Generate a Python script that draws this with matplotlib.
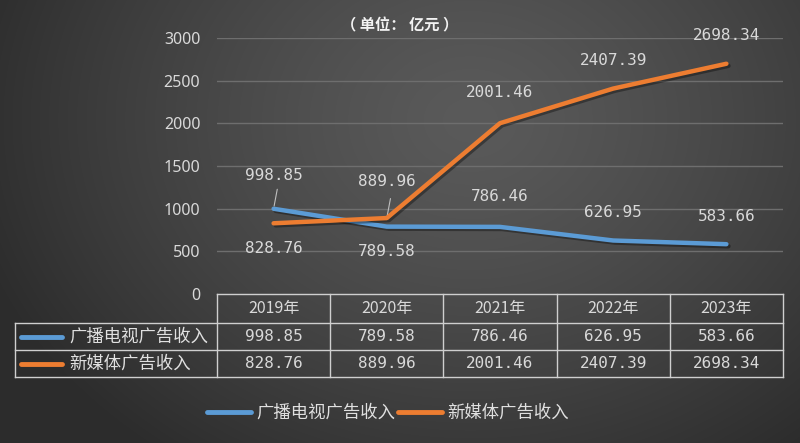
import numpy as np
import matplotlib
matplotlib.use("Agg")
import matplotlib.pyplot as plt
import matplotlib.patheffects as pe

plt.rcParams['font.family'] = ['Noto Sans CJK SC', 'DejaVu Sans']

# data
years = ["2019年", "2020年", "2021年", "2022年", "2023年"]
names = ["广播电视广告收入", "新媒体广告收入"]
tv = [998.85, 789.58, 786.46, 626.95, 583.66]
newmedia = [828.76, 889.96, 2001.46, 2407.39, 2698.34]
colors = ["#5B9BD5", "#ED7D31"]
yticks = [0, 500, 1000, 1500, 2000, 2500, 3000]

# label offsets (points) for each data label: + above, - below
tv_off = [24, -18, 22, 20, 20]
nm_off = [-18, 26, 22, 20, 20]

W, H = 800, 443
fig = plt.figure(figsize=(W / 100, H / 100), dpi=100)

# background radial gradient
bg = fig.add_axes([0, 0, 1, 1])
yy, xx = np.mgrid[0:H, 0:W]
d = np.sqrt(((xx - 470) / 520.0) ** 2 + ((yy - 120) / 420.0) ** 2)
d = np.clip(d, 0, 1)
val = 0x5a - (0x5a - 0x2c) * d ** 1.3
img = np.dstack([val, val, val]) / 255.0
bg.imshow(img, aspect="auto", extent=[0, W, H, 0])
bg.set_xlim(0, W)
bg.set_ylim(H, 0)
bg.axis("off")

x0, x1, ytop, ybot = 217, 783, 38, 294
ax = fig.add_axes([x0 / W, 1 - ybot / H, (x1 - x0) / W, (ybot - ytop) / H])
ax.patch.set_alpha(0)
xs = np.arange(len(years))
ax.set_xlim(-0.5, len(years) - 0.5)
ax.set_ylim(0, 3000)
ax.set_yticks(yticks)
ax.set_xticks([])
ax.tick_params(axis="y", length=0, pad=12, labelcolor="#d9d9d9", labelsize=11.5)
for lab in ax.get_yticklabels():
    lab.set_family("Noto Sans")
for s in ax.spines.values():
    s.set_visible(False)
ax.grid(axis="y", color="#6e6e6e", lw=1)
ax.set_axisbelow(True)

shadow = [pe.SimpleLineShadow(offset=(1.5, -1.5), shadow_color="black", alpha=0.35), pe.Normal()]
ax.plot(xs, tv, color=colors[0], lw=3.2, solid_capstyle="round", path_effects=shadow, zorder=3)
ax.plot(xs, newmedia, color=colors[1], lw=3.2, solid_capstyle="round", path_effects=shadow, zorder=4)

for series, offs in ((tv, tv_off), (newmedia, nm_off)):
    for i, v in enumerate(series):
        ax.annotate(f"{v:.2f}", (xs[i], v), xytext=(0, offs[i]), textcoords="offset points",
                    ha="center", va="center", color="#d9d9d9", fontsize=11.5,
                    family="DejaVu Sans Mono")

# leader lines for labels close to the points
ax.annotate("", (xs[0], tv[0]), xytext=(3, 16), textcoords="offset points",
            arrowprops=dict(arrowstyle="-", color="#bfbfbf", lw=0.8))
ax.annotate("", (xs[1], newmedia[1]), xytext=(3, 16), textcoords="offset points",
            arrowprops=dict(arrowstyle="-", color="#bfbfbf", lw=0.8))

fig.text(0.5, 1 - 25 / H, "（ 单位： 亿元 ）", ha="center", va="center",
         color="#f2f2f2", fontsize=11, fontweight="bold")

# data table below the axis
tc = "#cfcfcf"
rows = [294, 323, 350, 377]
cols = [x0 + (x1 - x0) * k / len(years) for k in range(len(years) + 1)]
bg.plot([x0, x1], [rows[0], rows[0]], color=tc, lw=1)
for r in rows[1:]:
    bg.plot([15, x1], [r, r], color=tc, lw=1)
for c in cols:
    bg.plot([c, c], [rows[0], rows[-1]], color=tc, lw=1)
bg.plot([15, 15], [rows[1], rows[-1]], color=tc, lw=1)

for k, yr in enumerate(years):
    cx = (cols[k] + cols[k + 1]) / 2
    bg.text(cx, (rows[0] + rows[1]) / 2, yr, ha="center", va="center",
            color="#d9d9d9", fontsize=11.5)
    for j, series in enumerate((tv, newmedia)):
        bg.text(cx, (rows[j + 1] + rows[j + 2]) / 2, f"{series[k]:.2f}", ha="center",
                va="center", color="#d9d9d9", fontsize=11.5, family="DejaVu Sans Mono")
for j, nm in enumerate(names):
    ym = (rows[j + 1] + rows[j + 2]) / 2
    bg.plot([21, 62], [ym, ym], color=colors[j], lw=3.5, solid_capstyle="round")
    bg.text(69, ym, nm, ha="left", va="center", color="#e0e0e0", fontsize=12.5)

# legend
handles = [plt.Line2D([], [], color=c, lw=3.5, solid_capstyle="round") for c in colors]
leg = fig.legend(handles, names, loc="center", bbox_to_anchor=(0.485, 1 - 413 / H), ncol=2,
                 frameon=False, handlelength=2.5, columnspacing=0.2, handletextpad=0.3,
                 fontsize=12.5)
for t in leg.get_texts():
    t.set_color("#e0e0e0")

fig.savefig("out.png", dpi=100)
